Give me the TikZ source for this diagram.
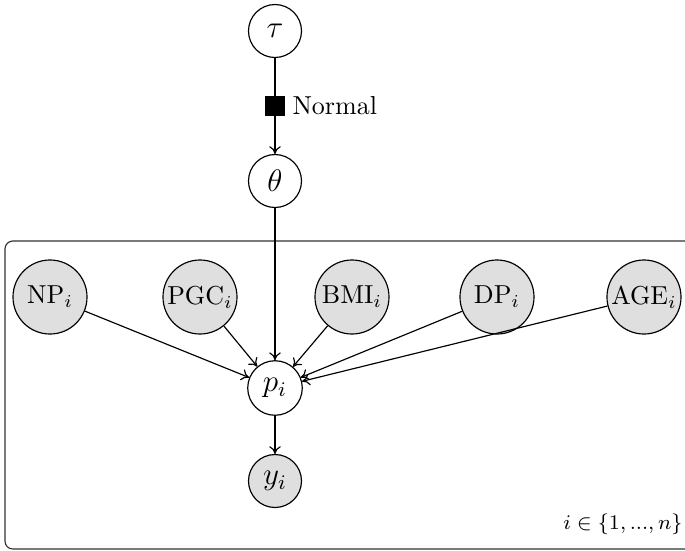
\documentclass[tikz,border=0pt]{standalone}
\usetikzlibrary{arrows.meta}
\begin{document}
\begin{tikzpicture}[x=0.385pt,y=-0.385pt,
  latentnode/.style={circle,draw=black,fill=white,line width=0.45pt,inner sep=0pt,minimum size=20.4pt},
  obsnode/.style={circle,draw=black,fill=gray!25,line width=0.45pt,inner sep=0pt,minimum size=28.5pt},
  obssmall/.style={circle,draw=black,fill=gray!25,line width=0.45pt,inner sep=0pt,minimum size=20.4pt},
  factorbox/.style={rectangle,fill=black,inner sep=0pt,minimum size=7.5pt},
  edgearrow/.style={-{To[length=3pt,width=4.5pt]},line width=0.45pt},
  plainedge/.style={line width=0.45pt}]
\useasboundingbox (0,0) rectangle (685,550);
\clip (0,0) rectangle (685,550);
% plate
\draw[line width=0.45pt,draw=black!80,rounded corners=3pt] (5,241) rectangle (720,549);
\node[anchor=east,inner sep=0pt,font=\footnotesize] (platelabel) at (683,524) {$i \in \{1, ..., n\}$};
% nodes
\node[latentnode] (tau) at (275,31) {\large $\tau$};
\node[factorbox] (normal) at (275,106) {};
\node[anchor=west,inner sep=0pt] (normallabel) at (292,106) {Normal};
\node[latentnode] (theta) at (275,181) {\large $\theta$};
\node[obsnode] (np) at (50,297) {NP$_i$};
\node[obsnode] (pgc) at (200,297) {PGC$_i$};
\node[obsnode] (bmi) at (352,297) {BMI$_i$};
\node[obsnode] (dp) at (497,297) {DP$_i$};
\node[obsnode] (age) at (644,297) {AGE$_i$};
\node[latentnode,minimum size=21pt] (p) at (275,388) {\large $p_i$};
\node[obssmall] (y) at (275,481) {\large $y_i$};
% edges
\draw[plainedge] (tau) -- (normal);
\draw[edgearrow] (normal) -- (theta);
\draw[edgearrow] (theta) -- (p);
\draw[edgearrow] (np) -- (p);
\draw[edgearrow] (pgc) -- (p);
\draw[edgearrow] (bmi) -- (p);
\draw[edgearrow] (dp) -- (p);
\draw[edgearrow] (age) -- (p);
\draw[edgearrow] (p) -- (y);
\end{tikzpicture}
\end{document}
